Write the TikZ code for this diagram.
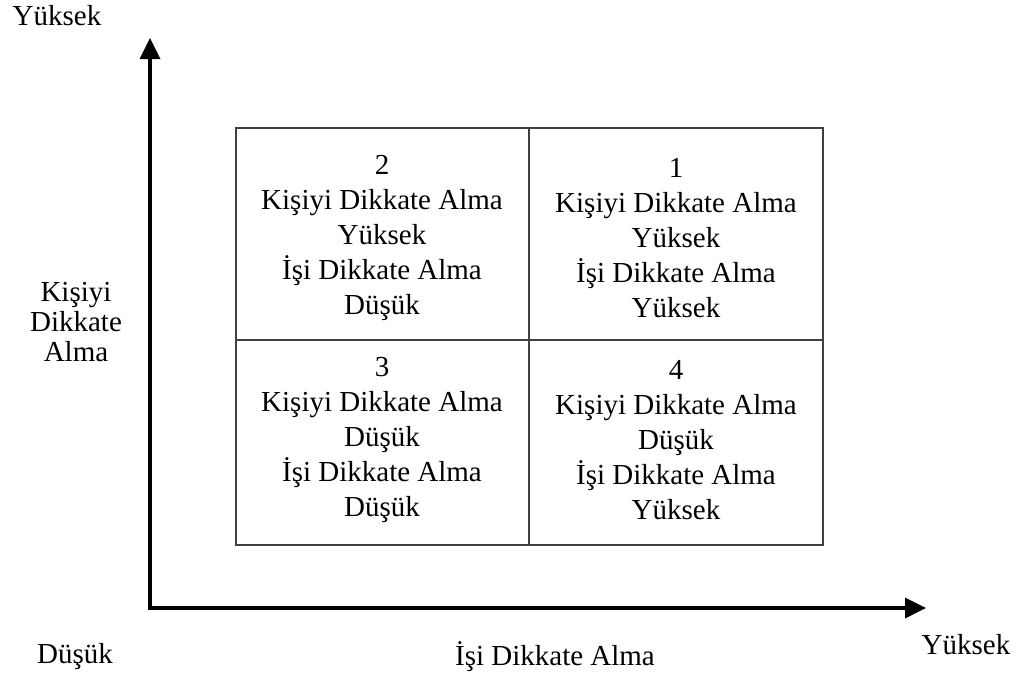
\documentclass[tikz,border=0pt]{standalone}
\usepackage{fontspec}
\setmainfont{Liberation Serif}
\usetikzlibrary{arrows.meta}
\begin{document}
\begin{tikzpicture}[x=0.02cm, y=-0.02cm, >={Triangle[length=0.42cm, width=0.4cm]},
    every node/.style={font=\fontsize{16.5}{20}\selectfont, align=center},
    axis/.style={line width=2pt},
    grid line/.style={black!75, line width=0.6pt}]
  \useasboundingbox (0, 0) rectangle (1016, 677);
  \coordinate (origin) at (150, 608);
  \coordinate (ytop) at (150, 38);
  \coordinate (xend) at (926, 608);
  \draw[axis, <->] (ytop) -- (origin) -- (xend);
  \draw[grid line] (236, 128) rectangle (823, 545);
  \draw[grid line] (529, 128) -- (529, 545);
  \draw[grid line] (236, 340) -- (823, 340);
  \node (q2) at (382, 238) {2\\Kişiyi Dikkate Alma\\Yüksek\\İşi Dikkate Alma\\Düşük};
  \node (q1) at (676, 238) {1\\Kişiyi Dikkate Alma\\Yüksek\\İşi Dikkate Alma\\Yüksek};
  \node (q3) at (382, 440) {3\\Kişiyi Dikkate Alma\\Düşük\\İşi Dikkate Alma\\Düşük};
  \node (q4) at (676, 440) {4\\Kişiyi Dikkate Alma\\Düşük\\İşi Dikkate Alma\\Yüksek};
  \node (yhigh) at (57, 16) {Yüksek};
  \node[font=\fontsize{16.5}{17}\selectfont] (ylabel) at (76, 322) {Kişiyi\\Dikkate\\Alma};
  \node (low) at (75, 657) {Düşük};
  \node (xlabel) at (555, 657) {İşi Dikkate Alma};
  \node (xhigh) at (966, 645) {Yüksek};
\end{tikzpicture}
\end{document}
